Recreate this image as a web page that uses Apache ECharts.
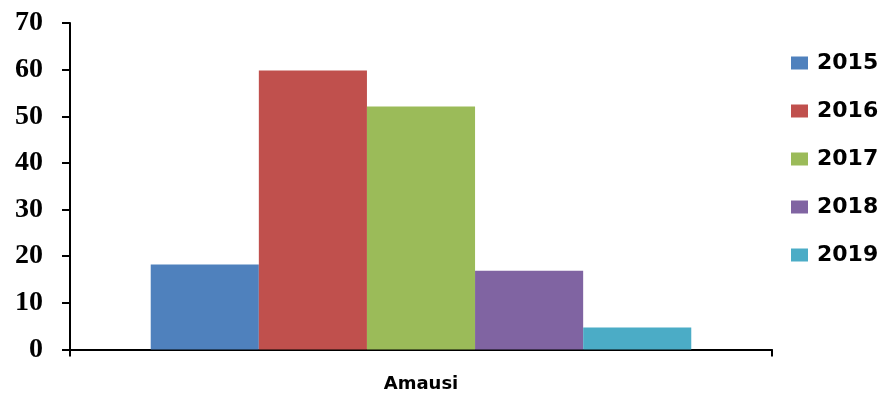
<!DOCTYPE html>
<html>
<head>
<meta charset="utf-8">
<script src="https://cdn.jsdelivr.net/npm/echarts@6/dist/echarts.min.js"></script>
<style>
  html, body { margin: 0; padding: 0; background: #ffffff; }
  #chart { width: 886px; height: 397px; }
</style>
</head>
<body>
<div id="chart"></div>
<script>
// Station on the category axis
const categories = ['Amausi'];
// One series per year
const years = ['2015', '2016', '2017', '2018', '2019'];
const values2015 = [18.2];
const values2016 = [59.8];
const values2017 = [52.1];
const values2018 = [16.9];
const values2019 = [4.7];
// Value-axis ticks
const yTicks = [0, 10, 20, 30, 40, 50, 60, 70];

const seriesValues = [values2015, values2016, values2017, values2018, values2019];
const colors = ['#4F81BD', '#C0504D', '#9BBB59', '#8064A2', '#4BACC6'];

const chart = echarts.init(document.getElementById('chart'), null, { renderer: 'canvas' });

chart.setOption({
  animation: false,
  color: colors,
  grid: { left: 70, right: 114, top: 23, bottom: 47.5, containLabel: false },
  legend: {
    orient: 'vertical',
    left: 791,
    top: 51,
    padding: 0,
    itemWidth: 17,
    itemHeight: 13,
    itemGap: 24,
    icon: 'rect',
    data: years,
    textStyle: {
      fontFamily: 'DejaVu Sans',
      fontWeight: 'bold',
      fontSize: 22,
      color: '#000',
      lineHeight: 24,
      padding: [0, 0, 0, 4]
    }
  },
  xAxis: {
    type: 'category',
    data: categories,
    boundaryGap: true,
    axisLine: { lineStyle: { color: '#000', width: 2 } },
    axisTick: { show: true, inside: false, length: 7, lineStyle: { color: '#000', width: 2 } },
    axisLabel: {
      margin: 26,
      fontFamily: 'DejaVu Sans',
      fontWeight: 'bold',
      fontSize: 18,
      color: '#000'
    }
  },
  yAxis: {
    type: 'value',
    min: yTicks[0],
    max: yTicks[yTicks.length - 1],
    interval: yTicks[1] - yTicks[0],
    splitLine: { show: false },
    axisLine: { show: true, lineStyle: { color: '#000', width: 2 } },
    axisTick: { show: true, length: 8, lineStyle: { color: '#000', width: 2 } },
    axisLabel: {
      margin: 27,
      fontFamily: 'Liberation Serif',
      fontWeight: 'bold',
      fontSize: 28,
      color: '#000'
    }
  },
  series: years.map((y, i) => ({
    name: y,
    type: 'bar',
    data: seriesValues[i],
    barGap: '0%',
    barCategoryGap: '23%',
    itemStyle: { color: colors[i] }
  }))
});
</script>
</body>
</html>
